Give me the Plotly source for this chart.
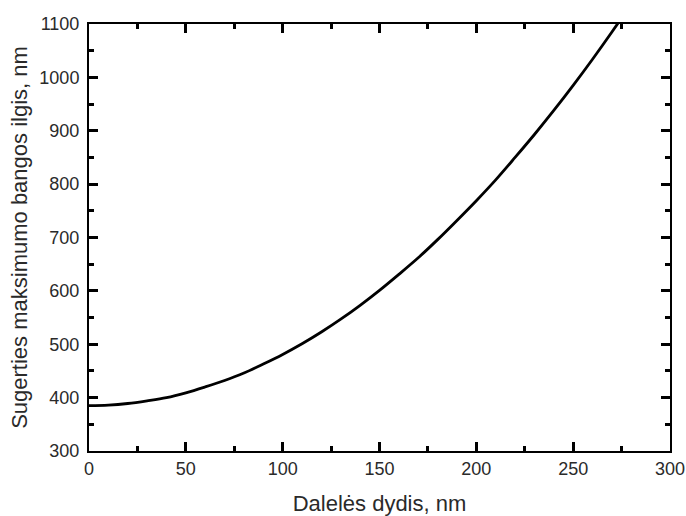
import plotly.graph_objects as go

size_nm = [0, 10, 20, 30, 40, 50, 60, 70, 80, 90, 100, 110, 120, 130, 140, 150,
           160, 170, 180, 190, 200, 210, 220, 230, 240, 250, 260, 270, 280]
peak_nm = [385, 386, 389, 394, 400, 409, 420, 432, 446, 463, 481, 501, 523, 547,
           573, 601, 631, 662, 696, 732, 769, 808, 850, 893, 938, 985, 1034, 1085, 1138]

x_title = "Dalelės dydis, nm"
y_title = "Sugerties maksimumo bangos ilgis, nm"

fig = go.Figure()
fig.add_trace(go.Scatter(x=size_nm, y=peak_nm, mode="lines",
                         line=dict(color="black", width=2.8, shape="spline"),
                         showlegend=False))

font = "Liberation Sans, Arial, sans-serif"
axis_common = dict(
    showgrid=False, zeroline=False, showline=True, linecolor="black", linewidth=2,
    mirror="allticks", ticks="inside", ticklen=9, tickwidth=2.5, tickcolor="black",
    tickfont=dict(family=font, size=18, color="#2a2a2a"),
)
fig.update_xaxes(range=[0, 300], dtick=50, tick0=0,
                 minor=dict(dtick=25, ticks="inside", ticklen=5, tickwidth=2.5, tickcolor="black"),
                 title=dict(text=x_title, font=dict(family=font, size=22, color="#2a2a2a"), standoff=20),
                 **axis_common)
fig.update_yaxes(range=[300, 1100], dtick=100, tick0=300,
                 minor=dict(dtick=50, ticks="inside", ticklen=5, tickwidth=2.5, tickcolor="black"),
                 ticklabelstandoff=4,
                 title=dict(text=y_title, font=dict(family=font, size=22, color="#2a2a2a"), standoff=6),
                 **axis_common)
fig.update_layout(width=686, height=516, margin=dict(l=89, r=16, t=24, b=65, autoexpand=False),
                  plot_bgcolor="white", paper_bgcolor="white")
fig.write_html("out.html")
